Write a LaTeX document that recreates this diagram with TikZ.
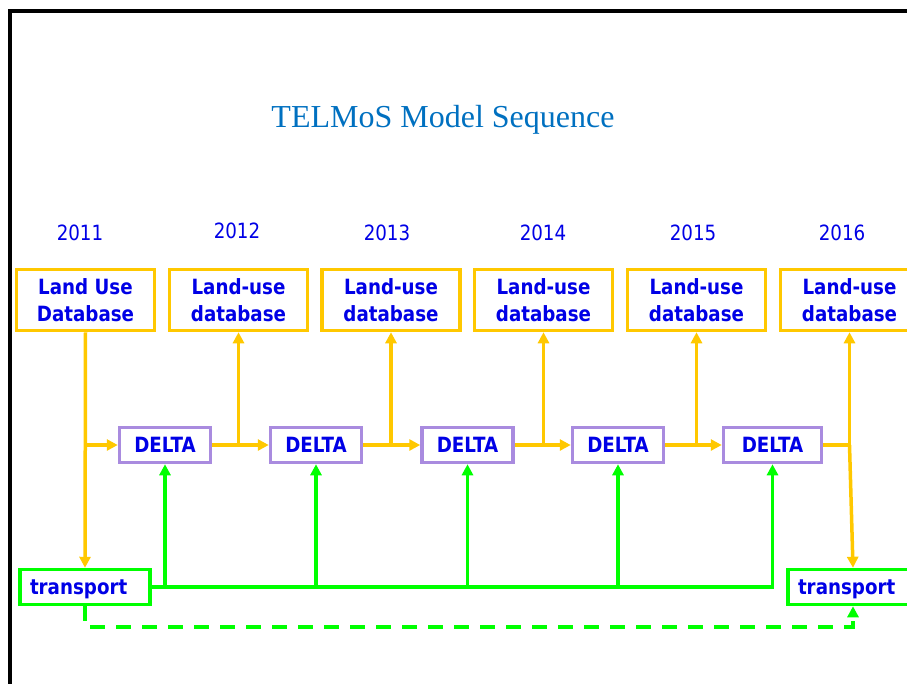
\documentclass[tikz,border=0pt]{standalone}
\usepackage{fontspec}
\setmainfont{Liberation Serif}
\newfontfamily\slidesans[FakeStretch=0.87]{DejaVu Sans}
\usetikzlibrary{arrows.meta}
\definecolor{SeqInk}{HTML}{0000E6}
\definecolor{SeqTitle}{HTML}{0070C0}
\definecolor{SeqYellow}{HTML}{FFC800}
\definecolor{SeqGreen}{HTML}{00FF00}
\definecolor{SeqPurple}{HTML}{A98BDF}
\tikzset{
  seq/box/.style={
    draw, line width=3.5pt, fill=white, text=SeqInk, inner sep=0pt,
    font=\slidesans\bfseries\fontsize{21}{27}\selectfont, align=center
  },
  seq/landuse/.style={seq/box, draw=SeqYellow, minimum width=138pt, minimum height=61pt},
  seq/delta/.style={seq/box, draw=SeqPurple, minimum width=91pt, minimum height=35pt},
  seq/transport/.style={
    seq/box, draw=SeqGreen, text width=110pt, align=left,
    inner xsep=10pt, minimum height=35pt, text height=17pt, text depth=3pt
  },
  seq/year/.style={text=SeqInk, font=\slidesans\fontsize{21}{25}\selectfont},
  seq/flow/.style={
    -{Triangle[length=11pt,width=11pt]}, line width=3.5pt, draw=SeqYellow
  },
  seq/flowline/.style={line width=3.5pt, draw=SeqYellow},
  seq/feed/.style={
    -{Triangle[length=11pt,width=11pt]}, line width=3.5pt, draw=SeqGreen
  },
  seq/feedback/.style={
    -{Triangle[length=11pt,width=11pt]}, line width=3.5pt, draw=SeqGreen,
    dash pattern=on 15pt off 11pt
  }
}
\begin{document}
\begin{tikzpicture}[x=1pt,y=-1pt]
  \useasboundingbox (0,0) rectangle (907,683);
  \draw[line width=4pt] (10,700) -- (10,11) -- (920,11);
  \node[text=SeqTitle,font=\fontsize{32}{38}\selectfont] (title) at (443,120)
    {TELMoS Model Sequence};
  \foreach \k/\x/\y/\lab in {1/80/233/2011,2/237/231/2012,3/387/233/2013,
      4/543/233/2014,5/693/233/2015,6/842/233/2016}
    \node[seq/year] (year\k) at (\x,\y) {\lab};
  \node[seq/landuse] (db1) at (85.5,300) {Land Use\\Database};
  \foreach \k/\x in {2/238.5,3/391,4/543.5,5/696.5,6/849.5}
    \node[seq/landuse] (db\k) at (\x,300) {Land-use\\database};
  \foreach \k/\x/\w in {1/165/91,2/316/91,3/467.5/91,4/618/91,5/772.5/98}
    \node[seq/delta,minimum width=\w pt] (delta\k) at (\x,445) {DELTA};
  \node[seq/transport] (trA) at (85,587) {transport};
  \node[seq/transport] (trB) at (853,587) {transport};
  \coordinate (dashlow) at (0,627);
  \draw[seq/flow] (db1.south) -- (trA.north);
  \draw[seq/flow] (db1.south |- delta1.west) -- (delta1.west);
  \foreach \k/\n in {1/2,2/3,3/4,4/5} {
    \draw[seq/flow] (delta\k.east) -- (delta\n.west);
    \draw[seq/flow] (db\n.south |- delta\k.east) -- (db\n.south);
  }
  \draw[seq/flowline] (delta5.east) -- (db6.south |- delta5.east);
  \draw[seq/flow] (db6.south |- delta5.east) -- (db6.south);
  \draw[seq/flow] (db6.south |- delta5.east) -- (trB.north);
  \draw[seq/feed] (trA.east) -- (delta5.south |- trA.east) -- (delta5.south);
  \foreach \k in {1,2,3,4}
    \draw[seq/feed] (delta\k.south |- trA.east) -- (delta\k.south);
  \draw[seq/feedback] (trA.south) -- (trA.south |- dashlow)
    -- (trB.south |- dashlow) -- (trB.south);
\end{tikzpicture}
\end{document}
